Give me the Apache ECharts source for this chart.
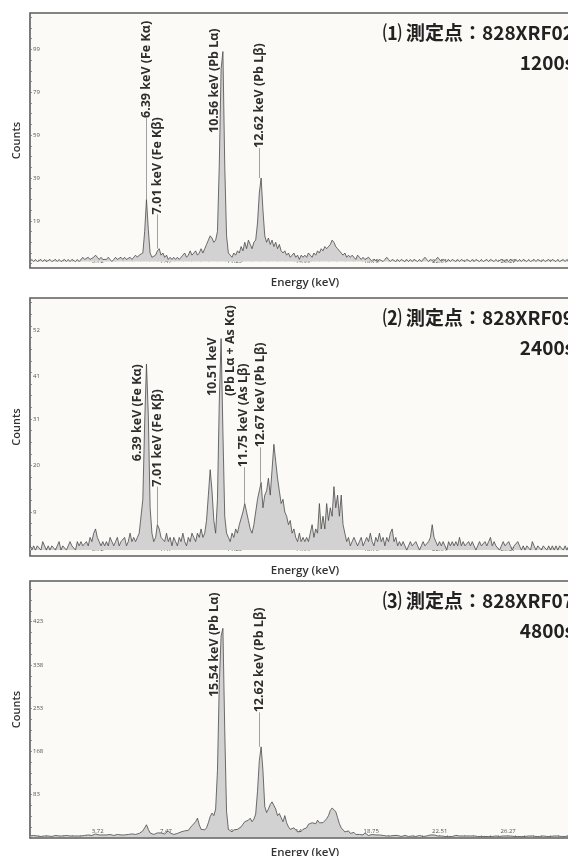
<!DOCTYPE html>
<html>
<head>
<meta charset="utf-8">
<script src="https://cdn.jsdelivr.net/npm/echarts@6/dist/echarts.min.js"></script>
<style>
html, body { margin: 0; padding: 0; background: #ffffff; }
#chart { width: 568px; height: 856px; }
</style>
</head>
<body>
<div id="chart"></div>
<script>
// Energy channels (keV), shared by the three spectra
const energy = [
  0.0, 0.1, 0.2, 0.3, 0.4, 0.5, 0.6, 0.7, 0.8, 0.9,
  1.0, 1.1, 1.2, 1.3, 1.4, 1.5, 1.6, 1.7, 1.8, 1.9,
  2.0, 2.1, 2.2, 2.3, 2.4, 2.5, 2.6, 2.7, 2.8, 2.9,
  3.0, 3.1, 3.2, 3.3, 3.4, 3.5, 3.6, 3.7, 3.8, 3.9,
  4.0, 4.1, 4.2, 4.3, 4.4, 4.5, 4.6, 4.7, 4.8, 4.9,
  5.0, 5.1, 5.2, 5.3, 5.4, 5.5, 5.6, 5.7, 5.8, 5.9,
  6.0, 6.1, 6.2, 6.3, 6.4, 6.5, 6.6, 6.7, 6.8, 6.9,
  7.0, 7.1, 7.2, 7.3, 7.4, 7.5, 7.6, 7.7, 7.8, 7.9,
  8.0, 8.1, 8.2, 8.3, 8.4, 8.5, 8.6, 8.7, 8.8, 8.9,
  9.0, 9.1, 9.2, 9.3, 9.4, 9.5, 9.6, 9.7, 9.8, 9.9,
  10.0, 10.1, 10.2, 10.3, 10.4, 10.5, 10.6, 10.7, 10.8, 10.9,
  11.0, 11.1, 11.2, 11.3, 11.4, 11.5, 11.6, 11.7, 11.8, 11.9,
  12.0, 12.1, 12.2, 12.3, 12.4, 12.5, 12.6, 12.7, 12.8, 12.9,
  13.0, 13.1, 13.2, 13.3, 13.4, 13.5, 13.6, 13.7, 13.8, 13.9,
  14.0, 14.1, 14.2, 14.3, 14.4, 14.5, 14.6, 14.7, 14.8, 14.9,
  15.0, 15.1, 15.2, 15.3, 15.4, 15.5, 15.6, 15.7, 15.8, 15.9,
  16.0, 16.1, 16.2, 16.3, 16.4, 16.5, 16.6, 16.7, 16.8, 16.9,
  17.0, 17.1, 17.2, 17.3, 17.4, 17.5, 17.6, 17.7, 17.8, 17.9,
  18.0, 18.1, 18.2, 18.3, 18.4, 18.5, 18.6, 18.7, 18.8, 18.9,
  19.0, 19.1, 19.2, 19.3, 19.4, 19.5, 19.6, 19.7, 19.8, 19.9,
  20.0, 20.1, 20.2, 20.3, 20.4, 20.5, 20.6, 20.7, 20.8, 20.9,
  21.0, 21.1, 21.2, 21.3, 21.4, 21.5, 21.6, 21.7, 21.8, 21.9,
  22.0, 22.1, 22.2, 22.3, 22.4, 22.5, 22.6, 22.7, 22.8, 22.9,
  23.0, 23.1, 23.2, 23.3, 23.4, 23.5, 23.6, 23.7, 23.8, 23.9,
  24.0, 24.1, 24.2, 24.3, 24.4, 24.5, 24.6, 24.7, 24.8, 24.9,
  25.0, 25.1, 25.2, 25.3, 25.4, 25.5, 25.6, 25.7, 25.8, 25.9,
  26.0, 26.1, 26.2, 26.3, 26.4, 26.5, 26.6, 26.7, 26.8, 26.9,
  27.0, 27.1, 27.2, 27.3, 27.4, 27.5, 27.6, 27.7, 27.8, 27.9,
  28.0, 28.1, 28.2, 28.3, 28.4, 28.5, 28.6, 28.7, 28.8, 28.9,
  29.0, 29.1, 29.2, 29.3, 29.4, 29.5, 29.6, 29.7, 29.8, 29.9,
  30.0
];

// (1) 828XRF02, 1200 s
const counts1 = [
  0,1,0,1,0,0,1,0,1,0,
  0,1,0,0,1,0,1,0,0,1,
  0,1,0,1,1,0,1,0,1,2,
  1,1,2,1,1,2,3,2,1,2,
  1,1,1,2,1,0,1,2,1,1,
  2,1,2,1,1,2,1,2,3,2,
  3,3,4,14,29,15,4,2,2,3,
  5,6,3,4,2,3,1,2,1,2,
  1,2,1,1,3,4,2,3,5,3,
  4,5,3,4,6,4,6,8,10,12,
  11,9,10,14,45,90,98,45,12,4,
  3,2,4,3,5,4,7,5,9,6,
  10,8,6,9,10,18,32,39,24,12,
  9,11,8,10,7,9,6,8,5,4,
  5,3,4,2,3,4,2,3,1,3,
  2,3,2,4,3,2,4,3,5,4,
  6,5,7,6,7,8,10,9,7,6,
  5,4,3,4,2,3,2,3,2,1,
  3,2,1,2,1,1,2,1,0,1,
  1,0,1,1,0,1,2,1,0,1,
  1,0,1,0,1,1,0,1,0,1,
  0,1,1,0,1,0,1,2,1,0,
  1,1,0,1,2,1,0,1,1,0,
  1,0,1,1,0,1,0,1,1,0,
  1,1,0,1,0,1,1,0,1,0,
  0,1,0,1,1,0,1,0,0,1,
  1,0,1,0,1,1,0,1,0,1,
  0,1,1,0,1,0,0,1,0,1,
  1,0,1,0,0,1,0,1,1,0,
  1,0,0,1,0,1,0,0,1,0,
  1
];

// (2) 828XRF09, 2400 s
const counts2 = [
  1,0,1,0,1,1,0,2,1,0,
  1,0,1,1,0,1,2,0,1,1,
  0,1,2,1,1,0,2,1,2,1,
  1,2,1,3,2,4,5,3,2,1,
  2,1,2,1,3,2,1,2,3,1,
  2,2,3,1,2,4,2,3,2,3,
  4,4,12,30,44,32,10,4,2,3,
  6,5,3,3,2,4,2,3,1,3,
  2,1,3,2,4,2,1,3,2,4,
  3,2,4,3,5,3,4,7,13,19,
  14,7,4,12,35,50,28,8,4,3,
  2,4,3,5,4,6,6,9,11,9,
  7,5,4,6,9,12,12,16,10,13,
  14,17,13,19,25,21,17,14,11,12,
  9,8,6,7,4,5,3,2,4,2,
  3,2,3,2,4,6,3,5,4,11,
  5,8,5,11,7,10,8,15,10,13,
  8,13,6,4,2,3,1,2,3,2,
  1,2,3,1,2,3,2,4,2,1,
  3,2,4,2,3,1,3,2,4,5,
  2,3,1,2,1,2,1,0,1,2,
  1,1,2,1,0,1,2,1,1,2,
  3,6,3,2,1,2,1,2,1,0,
  2,1,2,1,2,1,3,1,2,1,
  1,2,1,2,1,0,1,2,1,1,
  2,1,2,3,1,2,1,1,0,1,
  2,1,1,2,1,0,1,1,2,1,
  0,1,0,1,1,0,2,1,0,1,
  1,0,1,1,0,1,0,1,0,1,
  0,1,1,0,1,0,1,0,0,1,
  0
];

// (3) 828XRF07, 4800 s
const counts3 = [
  2,1,3,1,2,2,1,3,2,1,
  2,2,1,2,3,1,2,1,2,2,
  3,1,2,3,2,1,2,3,2,4,
  3,3,4,5,3,4,6,5,4,3,
  4,3,4,3,5,4,3,4,5,6,
  4,5,4,6,5,4,6,7,5,6,
  7,8,12,18,24,15,8,6,5,7,
  8,10,8,7,6,9,12,8,7,5,
  6,7,8,10,9,12,15,13,18,22,
  20,30,37,24,15,12,14,18,28,40,
  47,42,55,130,300,395,410,210,50,15,
  12,10,14,12,15,18,20,25,30,28,
  33,37,30,35,45,90,150,177,130,60,
  48,55,64,69,66,55,42,46,38,30,
  42,28,20,15,12,18,14,10,13,11,
  15,12,18,25,22,28,30,26,33,28,
  25,28,30,36,42,52,57,59,50,38,
  26,18,15,10,8,12,7,6,9,5,
  7,5,6,4,8,5,3,4,5,3,
  4,3,4,2,3,4,2,3,2,4,
  3,2,3,2,1,2,3,2,1,2,
  2,2,1,2,3,2,1,2,2,3,
  4,6,4,3,2,1,2,2,1,2,
  1,2,1,2,3,1,2,1,2,1,
  2,1,2,1,2,3,1,2,1,2,
  1,2,1,2,1,1,2,3,1,2,
  2,1,2,1,2,1,1,2,1,2,
  1,2,1,1,2,1,2,1,1,2,
  1,1,2,1,1,2,1,1,2,1,
  2,1,1,2,1,1,2,1,1,2,
  1
];

// Axis tick labels
const xTickLabels = [3.72, 7.47, 11.23, 14.99, 18.75, 22.51, 26.27];
const yTickLabels1 = [19, 39, 59, 79, 99];
const yTickLabels2 = [9, 20, 31, 41, 52];
const yTickLabels3 = [83, 168, 253, 338, 423];

// Panel headings
const panelTitles = ['⑴ 測定点：828XRF02', '⑵ 測定点：828XRF09', '⑶ 測定点：828XRF07'];
const panelTimes = ['1200s', '2400s', '4800s'];

// Peak annotations: energy (keV), peak height (counts), text
const peakEnergies1 = [6.39, 7.01, 10.56, 12.62];
const peakTops1 = [29, 6, 98, 39];
const peakTexts1 = ['6.39 keV (Fe Kα)', '7.01 keV (Fe Kβ)', '10.56 keV (Pb Lα)', '12.62 keV (Pb Lβ)'];

const peakEnergies2 = [6.39, 7.01, 10.51, 11.75, 12.67];
const peakTops2 = [44, 6, 50, 11, 16];
const peakTexts2 = ['6.39 keV (Fe Kα)', '7.01 keV (Fe Kβ)', '10.51 keV\n(Pb Lα + As Kα)', '11.75 keV (As Lβ)', '12.67 keV (Pb Lβ)'];

const peakEnergies3 = [10.56, 12.62];
const peakTops3 = [410, 177];
const peakTexts3 = ['15.54 keV (Pb Lα)', '12.62 keV (Pb Lβ)'];

// ---- drawing ----
const panels = [
  { counts: counts1, yTicks: yTickLabels1, e: peakEnergies1, tops: peakTops1, texts: peakTexts1,
    top: 13, height: 255, yMin: -3, yMax: 116,
    // label foot (counts) and sideways shift (px) for each annotation; leader line when shift is 0
    layout: [[67, 0], [22, 0], [60, -8], [53, 0]] },
  { counts: counts2, yTicks: yTickLabels2, e: peakEnergies2, tops: peakTops2, texts: peakTexts2,
    top: 298, height: 258, yMin: -1.4, yMax: 59.6,
    layout: [[21, -9], [15, 0], [36.4, 0], [19.6, 0], [24.3, 0]] },
  { counts: counts3, yTicks: yTickLabels3, e: peakEnergies3, tops: peakTops3, texts: peakTexts3,
    top: 581, height: 257, yMin: -2, yMax: 503,
    layout: [[275, -8], [245, 0]] }
];

const GRID_LEFT = 30;
const GRID_WIDTH = 728;   // 0 - 40 keV, the right part runs past the page edge
const LABEL_FONT = '"Open Sans", sans-serif';

function yTickValues(p) {
  const out = [];
  const step = (p.yTicks[1] - p.yTicks[0]) / 4;
  for (let v = p.yTicks[0] - step * 4; v <= p.yMax; v += step) {
    if (v >= p.yMin) out.push(v);
  }
  return out;
}
function xTickValues() {
  const out = [];
  const step = (xTickLabels[1] - xTickLabels[0]) / 8;
  for (let v = xTickLabels[0] - step * 8; v <= 40; v += step) {
    if (v >= 0) out.push(v);
  }
  return out;
}

const option = {
  backgroundColor: '#ffffff',
  animation: false,
  grid: panels.map(p => ({
    left: GRID_LEFT, top: p.top, width: GRID_WIDTH, height: p.height,
    outerBoundsMode: 'none', containLabel: false,
    show: true, backgroundColor: '#fbfaf6', borderColor: '#5c5c5c', borderWidth: 1.6
  })),
  xAxis: panels.map((p, i) => ({
    type: 'value', gridIndex: i, min: 0, max: 40,
    axisLine: { show: false },
    splitLine: { show: false },
    axisTick: { show: true, inside: true, length: 2, customValues: xTickValues(),
      lineStyle: { color: '#888', width: 0.6 } },
    axisLabel: { show: true, inside: true, customValues: xTickLabels, margin: 4,
      fontSize: 6, color: '#555', fontFamily: LABEL_FONT,
      formatter: v => v.toFixed(2) }
  })),
  yAxis: panels.map((p, i) => ({
    type: 'value', gridIndex: i, min: p.yMin, max: p.yMax,
    axisLine: { show: false },
    splitLine: { show: false },
    axisTick: { show: true, inside: true, length: 2, customValues: yTickValues(p),
      lineStyle: { color: '#777', width: 0.8 } },
    axisLabel: { show: true, inside: true, customValues: p.yTicks, margin: 3,
      fontSize: 6, color: '#555', fontFamily: LABEL_FONT }
  })),
  series: panels.map((p, i) => ({
    type: 'line', xAxisIndex: i, yAxisIndex: i,
    data: energy.map((e, k) => [e, p.counts[k]]),
    showSymbol: false, smooth: false,
    lineStyle: { color: '#4a4a4a', width: 0.8 },
    areaStyle: { color: '#d2d2d2', opacity: 1 },
    z: 3,
    markLine: {
      silent: true, symbol: ['none', 'none'], animation: false,
      label: { show: false },
      lineStyle: { color: '#8a8a8a', width: 0.8, type: 'solid' },
      data: p.e.map((e, j) => p.layout[j][1] === 0 && p.layout[j][0] > p.tops[j]
        ? [{ coord: [e, p.tops[j]] }, { coord: [e, p.layout[j][0]] }] : null).filter(Boolean)
    }
  }))
};

const chart = echarts.init(document.getElementById('chart'), null, { renderer: 'canvas' });
chart.setOption(option);

// Headings, axis names and rotated peak labels placed through the axis scales
const graphics = [];
panels.forEach((p, i) => {
  const bottom = p.top + p.height;
  graphics.push({
    type: 'text', x: 574, y: p.top + 20,
    style: { text: panelTitles[i], font: 'bold 19px "Noto Sans CJK JP", sans-serif',
      fill: '#222', align: 'right', verticalAlign: 'middle' }, z: 10
  });
  graphics.push({
    type: 'text', x: 574, y: p.top + 50,
    style: { text: panelTimes[i], font: 'bold 19px "Noto Sans CJK JP", sans-serif',
      fill: '#222', align: 'right', verticalAlign: 'middle' }, z: 10
  });
  graphics.push({
    type: 'text', x: 305, y: bottom + 15,
    style: { text: 'Energy (keV)', font: '600 11.5px ' + LABEL_FONT,
      fill: '#333', align: 'center', verticalAlign: 'middle' }, z: 10
  });
  graphics.push({
    type: 'text', x: 17, y: p.top + p.height / 2, rotation: Math.PI / 2,
    style: { text: 'Counts', font: '600 11px ' + LABEL_FONT,
      fill: '#333', align: 'center', verticalAlign: 'middle' }, z: 10
  });
  p.e.forEach((e, j) => {
    const pt = chart.convertToPixel({ xAxisIndex: i, yAxisIndex: i }, [e, p.layout[j][0]]);
    graphics.push({
      type: 'text', x: pt[0] + p.layout[j][1], y: pt[1], rotation: Math.PI / 2,
      style: { text: p.texts[j], font: 'bold 12.5px ' + LABEL_FONT, fill: '#2e2e2e',
        align: 'left', verticalAlign: 'middle', lineHeight: 18 }, z: 10
    });
  });
});
chart.setOption({ graphic: graphics });
</script>
</body>
</html>
